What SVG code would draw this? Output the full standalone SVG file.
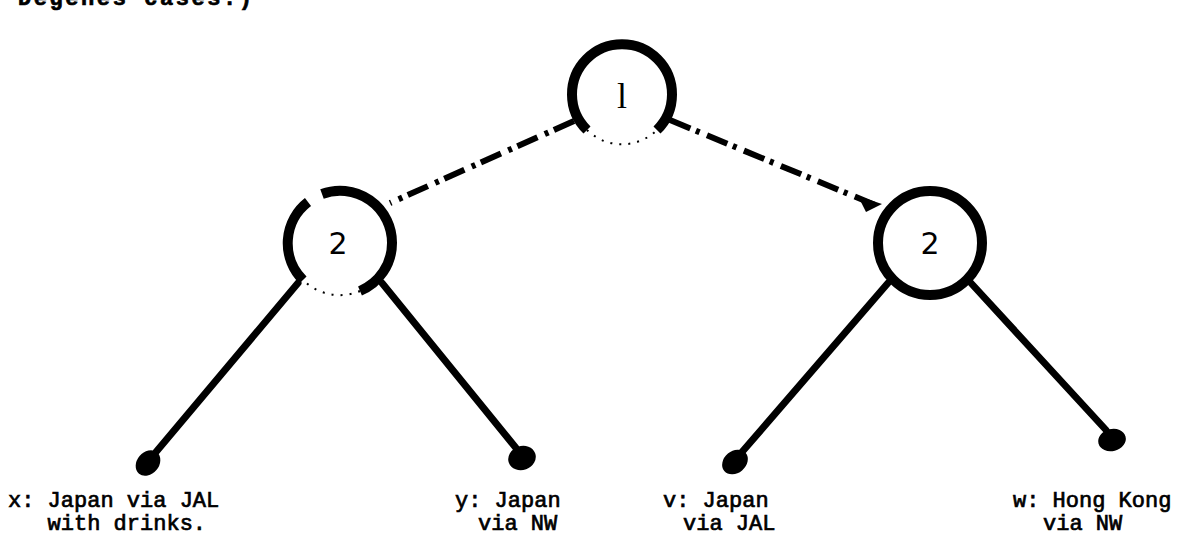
<svg xmlns="http://www.w3.org/2000/svg" width="1193" height="535" viewBox="0 0 1193 535">
<style>
.bg{fill:#fff}
.edge{stroke:#000;stroke-width:7;stroke-linecap:round;fill:none}
.worn{stroke:#000;stroke-width:6;fill:none;stroke-dasharray:22 6 4 8}
.ring{stroke:#000;stroke-width:10;fill:#fff}
.ringworn{stroke:#000;stroke-width:10;fill:none}
.dots{stroke:#000;stroke-width:2;fill:none;stroke-dasharray:2 7}
.num{font-family:"DejaVu Sans","Liberation Sans",sans-serif;font-size:30px;fill:#000;text-anchor:middle}
.lbl{font-family:"Liberation Mono","DejaVu Sans Mono",monospace;font-size:22px;fill:#000;stroke:#000;stroke-width:0.7}
.leaf{fill:#000}
</style>
<rect class="bg" width="1193" height="535"/>
<text class="lbl" x="18" y="5" textLength="234" lengthAdjust="spacing" style="font-weight:bold">Degenes cases.)</text>
<g id="connectors">
  <line class="worn" x1="574" y1="121" x2="390" y2="203"/>
  <line class="worn" x1="670" y1="120" x2="880" y2="207"/>
  <path d="M858 196 L882 204 L866 212 Z" fill="#000"/>
  <line class="edge" x1="298" y1="283" x2="156" y2="452"/>
  <line class="edge" x1="382" y1="283" x2="516" y2="448"/>
  <line class="edge" x1="888" y1="283" x2="742" y2="452"/>
  <line class="edge" x1="970" y1="282" x2="1106" y2="430"/>
</g>
<g id="n1">
  <circle cx="622" cy="95" r="50" fill="#fff"/>
  <path class="ringworn" d="M587 130 A50 50 0 1 1 657 130"/>
  <path class="dots" d="M587 130 A50 50 0 0 0 657 130"/>
  <text class="num" x="622" y="108" style="font-family:'Liberation Serif',serif;font-size:36px">l</text>
</g>
<g id="n2">
  <circle cx="340" cy="243" r="52" fill="#fff"/>
  <path class="ringworn" d="M303 280 A52 52 0 0 1 308 202"/>
  <path class="ringworn" d="M322 194 A52 52 0 0 1 392 243 A52 52 0 0 1 360 291"/>
  <path class="dots" d="M360 291 A52 52 0 0 1 303 280"/>
  <text class="num" x="338" y="254">2</text>
</g>
<g id="n3">
  <circle class="ring" cx="930" cy="243" r="52"/>
  <text class="num" x="930" y="254">2</text>
</g>
<g id="leaf-x">
  <ellipse class="leaf" cx="148" cy="463" rx="14" ry="11" transform="rotate(-50 148 463)"/>
  <text class="lbl" x="8" y="507">x: Japan via JAL</text>
  <text class="lbl" x="8" y="530" xml:space="preserve">   with drinks.</text>
</g>
<g id="leaf-y">
  <ellipse class="leaf" cx="522" cy="458" rx="14" ry="12" transform="rotate(-20 522 458)"/>
  <text class="lbl" x="455" y="507">y: Japan</text>
  <text class="lbl" x="478" y="530">via NW</text>
</g>
<g id="leaf-v">
  <ellipse class="leaf" cx="735" cy="462" rx="14" ry="11" transform="rotate(-40 735 462)"/>
  <text class="lbl" x="663" y="507">v: Japan</text>
  <text class="lbl" x="683" y="530">via JAL</text>
</g>
<g id="leaf-w">
  <ellipse class="leaf" cx="1112" cy="440" rx="14" ry="11" transform="rotate(-15 1112 440)"/>
  <text class="lbl" x="1013" y="507">w: Hong Kong</text>
  <text class="lbl" x="1043" y="530">via NW</text>
</g>
</svg>
